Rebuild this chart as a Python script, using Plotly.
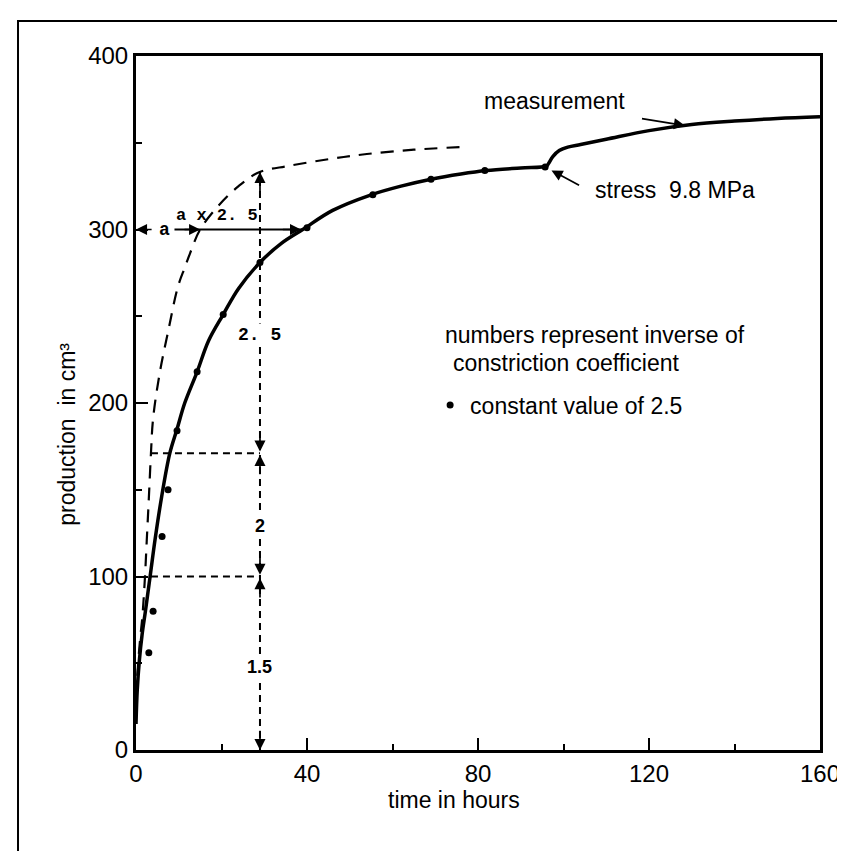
import numpy as np
import plotly.graph_objects as go

# measured production (cm3) against time (h), up to the stress change
time_h = [0, 0.3, 0.8, 1.4, 2.2, 3.3, 4.5, 6, 7.9, 9.6, 11.4, 14.3, 17, 20.4,
          24, 29, 34, 39, 46, 55, 62, 69, 76, 82, 90, 96]
production = [15, 35, 52, 66, 80, 100, 122, 146, 171, 185, 200, 218, 236, 251,
              266, 281, 292, 300, 311, 320, 325, 329, 332, 334, 335.5, 336.5]

# measurement after the stress was raised to 9.8 MPa
stress_time = [96.5, 97.5, 99, 101, 104, 110, 120, 130, 140, 150, 160]
stress_prod = [338, 342, 345.5, 347.5, 349, 352, 357, 360.5, 362.5, 364, 365]

# dashed reference curve
dashed_time = [0, 0.5, 1, 1.5, 2.1, 2.5, 3, 3.5, 4, 5.6, 7.5, 9.8, 11.4, 12.6,
               15, 19.2, 24, 28.8, 35.6, 45, 54, 65, 76]
dashed_prod = [30, 50, 65, 77, 100, 120, 145, 171, 191, 218, 241, 267, 278, 286,
               300, 313.5, 325, 333, 336.6, 340.5, 343.5, 346, 347.5]

# points calculated with a constant value of 2.5
dot_time = [3, 4, 6.1, 7.5, 9.6, 14.3, 20.4, 29, 40, 55.4, 69, 81.6, 95.7]
dot_prod = [56, 80, 123, 150, 184, 218, 251, 281, 301, 320, 329, 334, 336]

# construction lines
guide_time = 29
guide_start = 3.5
guide_levels = [0, 100, 171]
guide_labels = ['1.5', '2', '2. 5']
guide_label_y = [48, 129, 239]
a_level = 300

x_ticks = [0, 40, 80, 120, 160]
y_ticks = [0, 100, 200, 300, 400]

FONT = 'Liberation Sans, Arial, sans-serif'
MONO = 'Liberation Mono, Courier New, monospace'

guide_top = float(np.interp(guide_time, dashed_time, dashed_prod))
a_dashed = float(np.interp(a_level, dashed_prod, dashed_time))
a_solid = float(np.interp(a_level, production, time_h))

fig = go.Figure()

# vertical dashed guide
fig.add_trace(go.Scatter(
    x=[guide_time, guide_time], y=[guide_levels[0], guide_top],
    mode='lines', line=dict(color='black', width=2, dash='7px,5px'),
    showlegend=False, hoverinfo='skip'
))

# horizontal dashed guides
hx, hy = [], []
for lev in guide_levels[1:]:
    hx += [guide_start, guide_time, None]
    hy += [lev, lev, None]
fig.add_trace(go.Scatter(
    x=hx, y=hy, mode='lines',
    line=dict(color='black', width=2, dash='7px,5px'),
    showlegend=False, hoverinfo='skip'
))

# dashed reference curve
fig.add_trace(go.Scatter(
    x=dashed_time, y=dashed_prod, mode='lines', line_shape='spline',
    line=dict(color='black', width=2.2, dash='13px,9px'),
    showlegend=False, hoverinfo='skip'
))

# measured curve
fig.add_trace(go.Scatter(
    x=time_h + stress_time, y=production + stress_prod,
    mode='lines', line_shape='spline',
    line=dict(color='black', width=3.5),
    showlegend=False, name='measurement'
))

# a x 2.5 line at 300
fig.add_trace(go.Scatter(
    x=[9, a_solid], y=[a_level, a_level], mode='lines',
    line=dict(color='black', width=2),
    showlegend=False, hoverinfo='skip'
))

fig.add_trace(go.Scatter(
    x=dot_time, y=dot_prod, mode='markers',
    marker=dict(color='black', size=7),
    name='constant value of 2.5'
))

annotations = []


def arrow(x, y, ax, ay):
    annotations.append(dict(
        x=x, y=y, ax=ax, ay=ay, xref='x', yref='y', axref='x', ayref='y',
        text='', showarrow=True, arrowhead=2, arrowsize=1.3, arrowwidth=1.7,
        arrowcolor='black'
    ))


# arrowheads on the vertical guide
arrow(guide_time, guide_top, guide_time, guide_top - 12)
arrow(guide_time, guide_levels[0], guide_time, guide_levels[0] + 12)
for lev in guide_levels[1:]:
    arrow(guide_time, lev + 1, guide_time, lev + 13)
    arrow(guide_time, lev - 1, guide_time, lev - 13)

for lab, ly in zip(guide_labels, guide_label_y):
    annotations.append(dict(
        x=guide_time, y=ly, text='<b>%s</b>' % lab, showarrow=False,
        bgcolor='white', font=dict(family=MONO if ' ' in lab else FONT, size=18, color='black')
    ))

# a construction
arrow(0, a_level, 4, a_level)
arrow(a_dashed, a_level, a_dashed - 4, a_level)
arrow(a_solid - 0.4, a_level, a_solid - 5, a_level)
annotations.append(dict(x=6.6, y=a_level, text='<b>a</b>', showarrow=False,
                        font=dict(family=MONO, size=18, color='black')))
annotations.append(dict(x=19, y=a_level + 8, text='<b>a x 2. 5</b>', showarrow=False,
                        font=dict(family=MONO, size=17, color='black')))

# text labels
annotations.append(dict(x=97.8, y=374, text='measurement', showarrow=False,
                        font=dict(family=FONT, size=23, color='black')))
arrow(128.4, float(np.interp(128.4, stress_time, stress_prod)), 118, 364)
annotations.append(dict(x=106.8, y=323, text='stress&nbsp; 9.8 MPa', showarrow=False,
                        xanchor='left', font=dict(family=FONT, size=23, color='black')))
arrow(97.2, 334, 104, 325)
annotations.append(dict(x=71.8, y=239, text='numbers represent inverse of', showarrow=False,
                        xanchor='left', font=dict(family=FONT, size=23, color='black')))
annotations.append(dict(x=73.7, y=223, text='constriction coefficient', showarrow=False,
                        xanchor='left', font=dict(family=FONT, size=23, color='black')))

# axis titles
annotations.append(dict(x=0.465, y=-0.094, xref='paper', yref='paper', text='time in hours',
                        showarrow=False, font=dict(family=FONT, size=23, color='black')))
annotations.append(dict(x=-0.122, y=0.455, xref='paper', yref='paper', text='production  in cm³',
                        textangle=-90, showarrow=False,
                        font=dict(family=FONT, size=23, color='black')))

axis_common = dict(
    ticks='inside', ticklen=12, tickwidth=2, tickcolor='black',
    showline=True, linewidth=3, linecolor='black', mirror=True,
    showgrid=False, zeroline=False,
    tickfont=dict(family=FONT, size=24, color='black'),
)

fig.update_layout(
    width=845, height=851,
    margin=dict(l=128, r=33, t=48, b=109),
    paper_bgcolor='white', plot_bgcolor='white',
    font=dict(family=FONT, color='black'),
    xaxis=dict(range=[0, 160], tickvals=x_ticks,
               minor=dict(dtick=20, tick0=0, ticks='inside', ticklen=6, tickwidth=1.5,
                          tickcolor='black', showgrid=False),
               **axis_common),
    yaxis=dict(range=[0, 400], tickvals=y_ticks,
               minor=dict(dtick=50, tick0=0, ticks='inside', ticklen=6, tickwidth=1.5,
                          tickcolor='black', showgrid=False),
               **axis_common),
    showlegend=True,
    legend=dict(x=0.43, y=0.497, xanchor='left', yanchor='middle',
                bgcolor='rgba(0,0,0,0)', font=dict(family=FONT, size=23, color='black')),
    annotations=annotations,
    shapes=[dict(type='rect', xref='paper', yref='paper',
                 x0=-0.1725, x1=1.045, y0=-0.2, y1=1.0504,
                 line=dict(color='black', width=2))],
)

fig.write_html("out.html")
